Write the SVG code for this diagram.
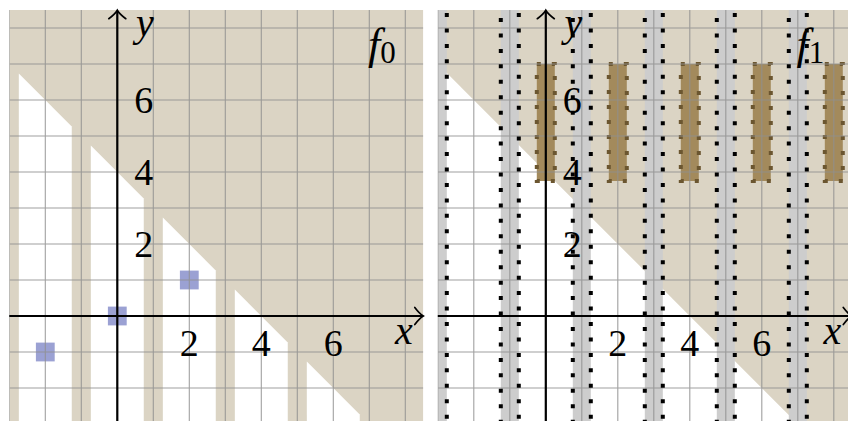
<svg xmlns="http://www.w3.org/2000/svg" xmlns:xlink="http://www.w3.org/1999/xlink" width="848" height="421" viewBox="0 0 848 421">
<style>
.bg{fill:#dbd4c4}
.wh{fill:#ffffff}
.band{fill:#cdcdcd}
.sq{fill:#9ba1d3}
.brown{fill:#a38a5c;stroke:#6b5630;stroke-width:4;stroke-dasharray:4 11}
.grid{fill:none;stroke:#8f8f8f;stroke-width:1.1;stroke-opacity:0.85}
.dotL,.dotR{fill:none;stroke:#000;stroke-width:4;stroke-dasharray:4 11.45}
.axis{fill:none;stroke:#000;stroke-width:2.2}
.ah{fill:none;stroke:#000;stroke-width:1.7;stroke-linecap:round}
.num{font-family:"Liberation Serif","DejaVu Serif",serif;font-size:38px;fill:#000;text-anchor:middle}
.var{font-family:"Liberation Serif","DejaVu Serif",serif;font-style:italic;font-size:40px;fill:#000;text-anchor:middle}
.fn{font-family:"Liberation Serif","DejaVu Serif",serif;font-style:italic;font-size:44px;fill:#000}
.sub{font-style:normal;font-size:31px}
</style>
<defs>
<clipPath id="clipL"><rect x="9.3" y="10" width="414" height="414"/></clipPath>
<clipPath id="clipR"><rect x="437.8" y="10" width="414" height="414"/></clipPath>
<path id="ah" class="ah" d="M-8.5,-8.5 C-5.5,-4.5 -2.5,-1.5 0,0 C-2.5,1.5 -5.5,4.5 -8.5,8.5"/>
</defs>
<rect width="848" height="421" fill="#ffffff"/>

<!-- Left panel: f0 -->
<g id="panel-f0" clip-path="url(#clipL)">
  <rect class="bg" x="9.3" y="10" width="414" height="414"/>
  <g id="f0-white-strips" class="wh">
    <polygon points="18.84,424 18.84,73.54 71.76,126.46 71.76,424"/>
    <polygon points="90.84,424 90.84,145.54 143.76,198.46 143.76,424"/>
    <polygon points="162.84,424 162.84,217.54 215.76,270.46 215.76,424"/>
    <polygon points="234.84,424 234.84,289.54 287.76,342.46 287.76,424"/>
    <polygon points="306.84,424 306.84,361.54 359.76,414.46 359.76,424"/>
  </g>
  <g id="f0-points" class="sq">
    <rect x="35.9" y="342.6" width="18.8" height="18.8"/>
    <rect x="107.9" y="306.6" width="18.8" height="18.8"/>
    <rect x="179.9" y="270.6" width="18.8" height="18.8"/>
  </g>
  <path id="f0-grid" class="grid" d="M9.3,10V424M45.3,10V424M81.3,10V424M117.3,10V424M153.3,10V424M189.3,10V424M225.3,10V424M261.3,10V424M297.3,10V424M333.3,10V424M369.3,10V424M405.3,10V424M9.3,28H423.3M9.3,64H423.3M9.3,100H423.3M9.3,136H423.3M9.3,172H423.3M9.3,208H423.3M9.3,244H423.3M9.3,280H423.3M9.3,316H423.3M9.3,352H423.3M9.3,388H423.3"/>
</g>

<!-- Right panel: f1 -->
<g id="panel-f1" clip-path="url(#clipR)">
  <rect class="bg" x="437.8" y="10" width="414" height="414"/>
  <polygon id="f1-white" class="wh" points="437.8,64 797.8,424 437.8,424"/>
  <g id="f1-bands" class="band">
    <rect x="428.8" y="10" width="18" height="414"/>
    <rect x="500.8" y="10" width="18" height="414"/>
    <rect x="572.8" y="10" width="18" height="414"/>
    <rect x="644.8" y="10" width="18" height="414"/>
    <rect x="716.8" y="10" width="18" height="414"/>
    <rect x="788.8" y="10" width="18" height="414"/>
  </g>
  <g id="f1-boxes">
    <rect class="brown" x="536.8" y="64" width="18" height="117"/>
    <rect class="brown" x="608.8" y="64" width="18" height="117"/>
    <rect class="brown" x="680.8" y="64" width="18" height="117"/>
    <rect class="brown" x="752.8" y="64" width="18" height="117"/>
    <rect class="brown" x="824.8" y="64" width="18" height="117"/>
  </g>
  <path id="f1-grid" class="grid" d="M437.8,10V424M473.8,10V424M509.8,10V424M545.8,10V424M581.8,10V424M617.8,10V424M653.8,10V424M689.8,10V424M725.8,10V424M761.8,10V424M797.8,10V424M833.8,10V424M437.8,28H851.8M437.8,64H851.8M437.8,100H851.8M437.8,136H851.8M437.8,172H851.8M437.8,208H851.8M437.8,244H851.8M437.8,280H851.8M437.8,316H851.8M437.8,352H851.8M437.8,388H851.8"/>
  <g id="f1-dotted">
    <path class="dotL" d="M500.8,2.55V424M572.8,2.55V424M644.8,2.55V424M716.8,2.55V424M788.8,2.55V424"/>
    <path class="dotR" d="M446.8,13V424M518.8,13V424M590.8,13V424M662.8,13V424M734.8,13V424M806.8,13V424"/>
  </g>
</g>

<!-- Connectors: axes -->
<g id="axes">
  <path class="axis" d="M9.3,316H422.5M117.3,424V11"/>
  <use xlink:href="#ah" transform="translate(423.3,316)"/>
  <use xlink:href="#ah" transform="translate(117.3,10.2) rotate(-90)"/>
  <path class="axis" d="M437.8,316H851M545.8,424V11"/>
  <use xlink:href="#ah" transform="translate(851.8,316)"/>
  <use xlink:href="#ah" transform="translate(545.8,10.2) rotate(-90)"/>
</g>

<!-- Labels -->
<g id="labels-f0">
  <text class="num" x="189.3" y="356">2</text>
  <text class="num" x="261.3" y="356">4</text>
  <text class="num" x="333.3" y="356">6</text>
  <text class="num" x="143.8" y="257">2</text>
  <text class="num" x="143.8" y="185">4</text>
  <text class="num" x="143.8" y="113">6</text>
  <text class="var" x="404" y="344">x</text>
  <text class="var" x="145" y="36">y</text>
  <text class="fn" x="368" y="59">f<tspan class="sub" dy="4">0</tspan></text>
</g>
<g id="labels-f1">
  <text class="num" x="617.8" y="356">2</text>
  <text class="num" x="689.8" y="356">4</text>
  <text class="num" x="761.8" y="356">6</text>
  <text class="num" x="572.3" y="257">2</text>
  <text class="num" x="572.3" y="185">4</text>
  <text class="num" x="572.3" y="113">6</text>
  <text class="var" x="832.5" y="344">x</text>
  <text class="var" x="573.5" y="36">y</text>
  <text class="fn" x="796.5" y="59">f<tspan class="sub" dy="4">1</tspan></text>
</g>
</svg>
